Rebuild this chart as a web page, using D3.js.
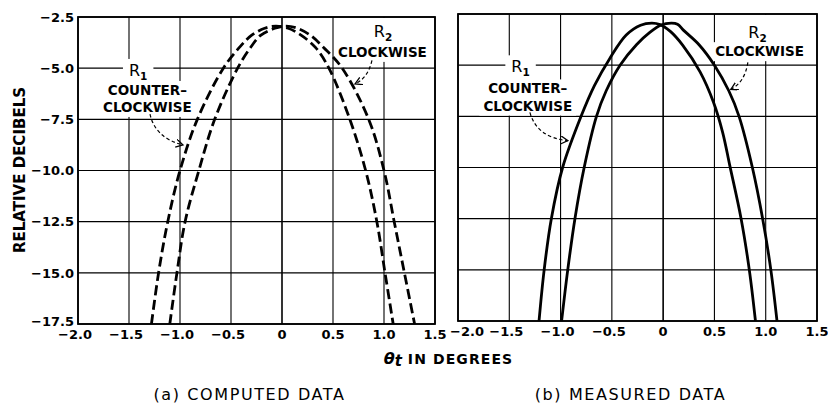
<!DOCTYPE html>
<html>
<head>
<meta charset="utf-8">
<script src="https://cdn.jsdelivr.net/npm/d3@7"></script>
<style>
  body { margin: 0; background: #fff; }
  svg { display: block; font-family: "DejaVu Sans", sans-serif; }
</style>
</head>
<body>
<div id="chart"></div>
<script>
// Tick values shared by both panels
const xTicks = [-2.0, -1.5, -1.0, -0.5, 0, 0.5, 1.0, 1.5];
const yTicks = [-2.5, -5.0, -7.5, -10.0, -12.5, -15.0, -17.5];

// (a) computed data: [theta_t in degrees, relative dB]
const computedR1 = [
  [-1.28, -17.5], [-1.21, -15.0], [-1.12, -12.5], [-1.0, -10.0], [-0.83, -7.5],
  [-0.575, -5.0], [-0.42, -4.0], [-0.30, -3.4], [-0.17, -3.05], [-0.06, -2.95],
  [0.06, -3.05], [0.19, -3.4], [0.33, -4.0], [0.46, -5.0], [0.665, -7.5],
  [0.82, -10.0], [0.93, -12.5], [1.01, -15.0], [1.09, -17.5]
];
const computedR2 = [
  [-1.10, -17.5], [-1.03, -15.0], [-0.95, -12.5], [-0.815, -10.0], [-0.66, -7.5],
  [-0.435, -5.0], [-0.31, -4.0], [-0.21, -3.4], [-0.07, -3.05], [0.04, -2.95],
  [0.15, -3.05], [0.28, -3.4], [0.41, -4.0], [0.59, -5.0], [0.85, -7.5],
  [1.0, -10.0], [1.10, -12.5], [1.20, -15.0], [1.30, -17.5]
];

// (b) measured data
const measuredR1 = [
  [-1.21, -17.5], [-1.16, -15.0], [-1.09, -12.5], [-0.98, -10.0], [-0.80, -7.5],
  [-0.67, -6.0], [-0.52, -4.67], [-0.36, -3.53], [-0.22, -3.05], [-0.11, -2.95],
  [-0.03, -3.02], [0.07, -3.35], [0.19, -4.02], [0.36, -5.33], [0.49, -6.8],
  [0.58, -8.28], [0.65, -9.91], [0.76, -12.5], [0.84, -15.0], [0.90, -17.5]
];
const measuredR2 = [
  [-0.99, -17.5], [-0.93, -15.0], [-0.86, -12.5], [-0.77, -10.0], [-0.65, -7.5],
  [-0.555, -6.25], [-0.42, -5.0], [-0.26, -4.0], [-0.13, -3.4], [-0.02, -3.04],
  [0.08, -2.95], [0.14, -3.0], [0.20, -3.3], [0.35, -4.0], [0.50, -5.0],
  [0.64, -6.25], [0.74, -7.5], [0.87, -10.0], [0.97, -12.5], [1.05, -15.0],
  [1.11, -17.5]
];

// Curve labels, placed in data units
const computedNotes = [
  { name: "R", sub: "1", at: [-1.41, -5.38], lines: ["COUNTER–", "CLOCKWISE"], linesAt: [[-1.32, -6.31], [-1.32, -7.14]],
    arrow: [[-1.294, -7.24], [-1.245, -8.41], [-0.971, -8.75]] },
  { name: "R", sub: "2", at: [0.99, -3.48], lines: ["CLOCKWISE"], linesAt: [[0.985, -4.45]], toTop: true,
    arrow: [[0.882, -4.62], [0.843, -5.48], [0.716, -5.77]] }
];
const measuredNotes = [
  { name: "R", sub: "1", at: [-1.39, -5.35], lines: ["COUNTER–", "CLOCKWISE"], linesAt: [[-1.32, -6.38], [-1.32, -7.22]],
    arrow: [[-1.299, -7.31], [-1.231, -8.54], [-0.929, -8.69]] },
  { name: "R", sub: "2", at: [0.92, -3.68], lines: ["CLOCKWISE"], linesAt: [[0.94, -4.56]], toTop: true,
    arrow: [[0.826, -4.86], [0.796, -5.84], [0.660, -6.18]] }
];

const width = 828;
const height = 403;

const svg = d3.select("#chart").append("svg")
  .attr("width", width)
  .attr("height", height);

svg.append("rect").attr("width", width).attr("height", height).attr("fill", "#fff");

// open arrowhead
svg.append("defs").append("marker")
  .attr("id", "head")
  .attr("markerUnits", "userSpaceOnUse")
  .attr("markerWidth", 10).attr("markerHeight", 10)
  .attr("refX", 7).attr("refY", 4)
  .attr("orient", "auto")
  .append("path")
  .attr("d", "M0,0L7,4L0,8")
  .attr("fill", "none")
  .attr("stroke", "#000")
  .attr("stroke-width", 1.3);

const panels = [
  { id: "a", left: 78, right: 435, top: 17, bottom: 324, series: [computedR1, computedR2],
    dash: "10,4.5", tag: "(a)", caption: "COMPUTED DATA", notes: computedNotes, yLabels: true },
  { id: "b", left: 458, right: 817, top: 14, bottom: 321, series: [measuredR1, measuredR2],
    dash: null, tag: "(b)", caption: "MEASURED DATA", notes: measuredNotes, yLabels: false }
];

const fmt = (v) => (v === 0 ? "0" : d3.format(".1f")(v));

panels.forEach((p, pi) => {
  const x = d3.scaleLinear().domain([-2, 1.5]).range([p.left, p.right]);
  const y = d3.scaleLinear().domain([-2.5, -17.5]).range([p.top, p.bottom]);
  const g = svg.append("g");

  // grid
  g.append("g").selectAll("line").data(xTicks).join("line")
    .attr("x1", (d) => x(d)).attr("x2", (d) => x(d))
    .attr("y1", p.top).attr("y2", p.bottom)
    .attr("stroke", "#000")
    .attr("stroke-width", (d) => (d === 0 ? 1.6 : 1.1));
  g.append("g").selectAll("line").data(yTicks).join("line")
    .attr("x1", p.left).attr("x2", p.right)
    .attr("y1", (d) => y(d)).attr("y2", (d) => y(d))
    .attr("stroke", "#000")
    .attr("stroke-width", 1.1);

  const maskG = g.append("g");

  // labels
  const textG = g.append("g");
  p.notes.forEach((n) => {
    const t = textG.append("text")
      .attr("x", x(n.at[0])).attr("y", y(n.at[1]))
      .attr("text-anchor", "middle");
    t.append("tspan").attr("font-size", 16).text(n.name);
    t.append("tspan").attr("font-size", 10.5).attr("font-weight", "bold")
      .attr("dy", 4).text(n.sub);
    const bb = t.node().getBBox();
    const top = n.toTop ? p.top + 1 : bb.y - 2;
    maskG.append("rect")
      .attr("x", bb.x - 6).attr("y", top)
      .attr("width", bb.width + 12).attr("height", bb.y + bb.height + 2 - top)
      .attr("fill", "#fff");

    n.lines.forEach((line, i) => {
      const lt = textG.append("text")
        .attr("x", x(n.linesAt[i][0])).attr("y", y(n.linesAt[i][1]))
        .attr("text-anchor", "middle")
        .attr("font-size", 13.5)
        .attr("font-weight", "bold")
        .text(line);
      const lb = lt.node().getBBox();
      maskG.append("rect")
        .attr("x", lb.x - 4).attr("y", lb.y - 1)
        .attr("width", lb.width + 8).attr("height", lb.height + 3)
        .attr("fill", "#fff");
    });

    const a = n.arrow;
    const path = d3.path();
    path.moveTo(x(a[0][0]), y(a[0][1]));
    path.quadraticCurveTo(x(a[1][0]), y(a[1][1]), x(a[2][0]), y(a[2][1]));
    textG.append("path")
      .attr("d", path.toString())
      .attr("fill", "none")
      .attr("stroke", "#000")
      .attr("stroke-width", 1.2)
      .attr("stroke-dasharray", "3.5,2.5")
      .attr("marker-end", "url(#head)");
  });

  // frame
  g.append("rect")
    .attr("x", p.left).attr("y", p.top)
    .attr("width", p.right - p.left).attr("height", p.bottom - p.top)
    .attr("fill", "none")
    .attr("stroke", "#000")
    .attr("stroke-width", 1.8);

  // curves
  svg.append("clipPath").attr("id", "clip-" + p.id)
    .append("rect")
    .attr("x", p.left).attr("y", p.top)
    .attr("width", p.right - p.left).attr("height", p.bottom - p.top);

  const line = d3.line()
    .x((d) => x(d[0]))
    .y((d) => y(d[1]))
    .curve(d3.curveCatmullRom.alpha(0.5));

  g.append("g").attr("clip-path", `url(#clip-${p.id})`)
    .selectAll("path").data(p.series).join("path")
    .attr("d", line)
    .attr("fill", "none")
    .attr("stroke", "#000")
    .attr("stroke-width", 2.8)
    .attr("stroke-dasharray", p.dash);

  // tick labels (the second panel's first label is pushed right, as in the original)
  g.append("g").selectAll("text").data(xTicks).join("text")
    .attr("x", (d, i) => (pi > 0 && i === 0 ? x(d) - 8 : x(d) + (d < 0 ? -3 : 0)))
    .attr("y", p.bottom + 15)
    .attr("text-anchor", (d, i) => (pi > 0 && i === 0 ? "start" : "middle"))
    .attr("font-size", 13)
    .attr("font-weight", "bold")
    .text(fmt);

  if (p.yLabels) {
    g.append("g").selectAll("text").data(yTicks).join("text")
      .attr("x", p.left - 4)
      .attr("y", (d, i) => y(d) - (i === yTicks.length - 1 ? 3 : 0))
      .attr("dy", "0.36em")
      .attr("text-anchor", "end")
      .attr("font-size", 13)
      .attr("font-weight", "bold")
      .text(fmt);
  }

  // caption
  const cap = svg.append("text")
    .attr("x", (p.left + p.right) / 2 - 7)
    .attr("y", 400)
    .attr("text-anchor", "middle")
    .attr("font-size", 16)
    .attr("letter-spacing", 1.6);
  cap.append("tspan").text(p.tag + " ");
  cap.append("tspan").text(p.caption);
});

// axis titles
svg.append("text")
  .attr("transform", "translate(25,170) rotate(-90)")
  .attr("text-anchor", "middle")
  .attr("font-size", 15)
  .attr("font-weight", "bold")
  .text("RELATIVE DECIBELS");

const xt = svg.append("text")
  .attr("x", (panels[0].right + panels[1].left) / 2 + 2)
  .attr("y", 364)
  .attr("text-anchor", "middle")
  .attr("font-weight", "bold");
xt.append("tspan").attr("font-size", 16).attr("font-style", "italic").text("θ");
xt.append("tspan").attr("font-size", 15).attr("font-style", "italic").attr("dy", 2).text("t");
xt.append("tspan").attr("font-size", 14).attr("dy", -2).attr("letter-spacing", 1.1).text(" IN DEGREES");
</script>
</body>
</html>
